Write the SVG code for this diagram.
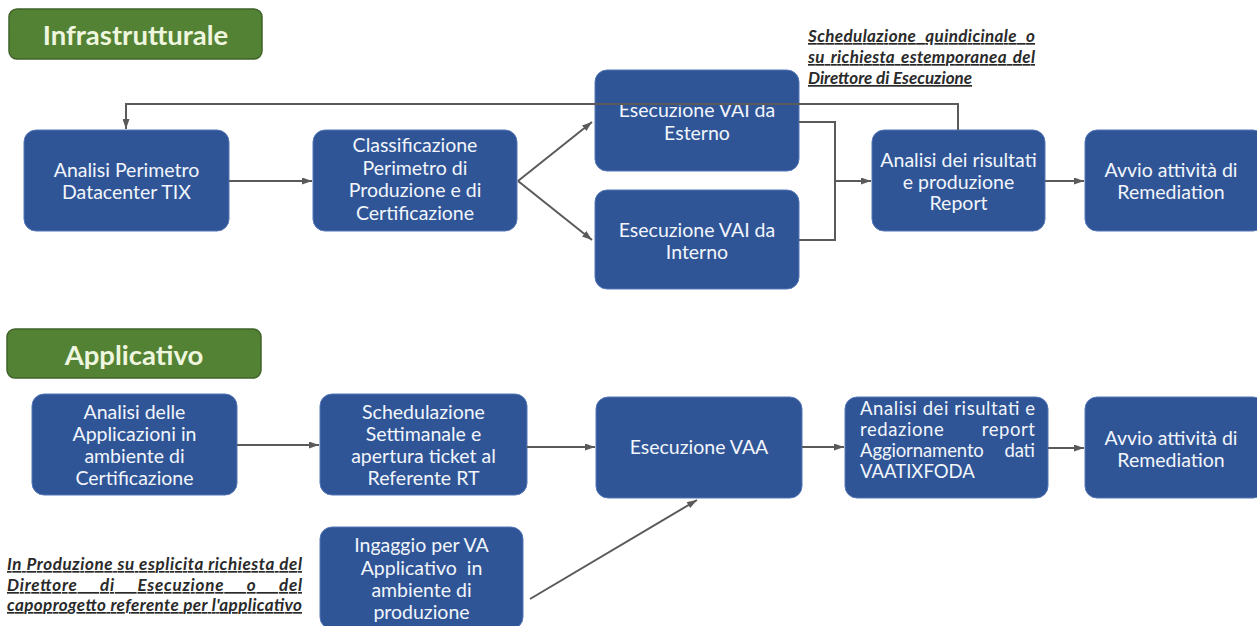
<svg xmlns="http://www.w3.org/2000/svg" width="1257" height="626" viewBox="0 0 1257 626">
<style>
.hdr rect{fill:#548235;stroke:#3f6328;stroke-width:1.5}
.hdr text{font-family:Lato,"Open Sans",sans-serif;font-weight:bold;font-size:27.5px;fill:#eef6df;text-anchor:middle}
.nd rect{fill:#2F5597;stroke:#5577b8;stroke-width:1}
.nd text{font-family:Lato,"Open Sans",sans-serif;font-size:19.5px;fill:#f2f5fb;text-anchor:middle}
.nd text.l{text-anchor:start;font-size:18.5px}
.cn{fill:none;stroke:#5a5a5a;stroke-width:2}
.note{font-family:Lato,"Open Sans",sans-serif;font-size:17px;font-style:italic;font-weight:bold;fill:#2a2a2a;text-decoration:underline}
</style>
<defs>
<marker id="ah" viewBox="0 0 10 7" refX="10" refY="3.5" markerWidth="5" markerHeight="3.5" orient="auto" markerUnits="strokeWidth">
<path d="M0,0 L10,3.5 L0,7 z" fill="#5a5a5a"/>
</marker>
</defs>
<rect width="1257" height="626" fill="#ffffff"/>

<g id="hdr-infra" class="hdr">
<rect x="9" y="9" width="253" height="50" rx="8"/>
<text x="135.5" y="44.5">Infrastrutturale</text>
</g>
<g id="hdr-app" class="hdr">
<rect x="7" y="329" width="254" height="49" rx="8"/>
<text x="134" y="364.5">Applicativo</text>
</g>

<g id="n-analisi-perimetro" class="nd">
<rect x="24" y="130" width="205" height="101" rx="12"/>
<text x="126.5" y="177">Analisi Perimetro</text>
<text x="126.5" y="199">Datacenter TIX</text>
</g>
<g id="n-classificazione" class="nd">
<rect x="313" y="130" width="204" height="101" rx="12"/>
<text x="415" y="152">Classificazione</text>
<text x="415" y="175">Perimetro di</text>
<text x="415" y="197">Produzione e di</text>
<text x="415" y="220">Certificazione</text>
</g>
<g id="n-esterno" class="nd">
<rect x="595" y="70" width="204" height="101" rx="12"/>
<text x="697" y="117">Esecuzione VAI da</text>
<text x="697" y="140">Esterno</text>
</g>
<g id="n-interno" class="nd">
<rect x="595" y="190" width="204" height="99" rx="12"/>
<text x="697" y="237">Esecuzione VAI da</text>
<text x="697" y="259">Interno</text>
</g>
<g id="n-analisi-report" class="nd">
<rect x="872" y="130" width="173" height="101" rx="12"/>
<text x="958.5" y="167">Analisi dei risultati</text>
<text x="958.5" y="189">e produzione</text>
<text x="958.5" y="210">Report</text>
</g>
<g id="n-avvio-1" class="nd">
<rect x="1085" y="130" width="180" height="101" rx="12"/>
<text x="1171" y="177">Avvio attività di</text>
<text x="1171" y="199">Remediation</text>
</g>

<g id="n-analisi-app" class="nd">
<rect x="32" y="394" width="205" height="101" rx="12"/>
<text x="134.5" y="419">Analisi delle</text>
<text x="134.5" y="441">Applicazioni in</text>
<text x="134.5" y="463">ambiente di</text>
<text x="134.5" y="485">Certificazione</text>
</g>
<g id="n-schedulazione" class="nd">
<rect x="320" y="394" width="207" height="101" rx="12"/>
<text x="423.5" y="419">Schedulazione</text>
<text x="423.5" y="441">Settimanale e</text>
<text x="423.5" y="463">apertura ticket al</text>
<text x="423.5" y="485">Referente RT</text>
</g>
<g id="n-ingaggio" class="nd">
<rect x="320" y="527" width="203" height="102" rx="12"/>
<text x="421.5" y="552">Ingaggio per VA</text>
<text x="421.5" y="575" xml:space="preserve">Applicativo  in</text>
<text x="421.5" y="597">ambiente di</text>
<text x="421.5" y="619">produzione</text>
</g>
<g id="n-vaa" class="nd">
<rect x="596" y="397" width="206" height="101" rx="12"/>
<text x="699" y="454">Esecuzione VAA</text>
</g>
<g id="n-analisi-vaatix" class="nd">
<rect x="845" y="397" width="203" height="101" rx="12"/>
<text class="l" x="860" y="415" textLength="175" lengthAdjust="spacing">Analisi dei risultati e</text>
<text class="l" x="860" y="436" word-spacing="32" textLength="175" lengthAdjust="spacing">redazione report</text>
<text class="l" x="860" y="457" word-spacing="16" textLength="175" lengthAdjust="spacing">Aggiornamento dati</text>
<text class="l" x="860" y="478">VAATIXFODA</text>
</g>
<g id="n-avvio-2" class="nd">
<rect x="1085" y="397" width="180" height="101" rx="12"/>
<text x="1171" y="445">Avvio attività di</text>
<text x="1171" y="467">Remediation</text>
</g>

<g id="connectors">
<line class="cn" x1="229" y1="181" x2="312" y2="181" marker-end="url(#ah)"/>
<line class="cn" x1="518" y1="181" x2="592" y2="122" marker-end="url(#ah)"/>
<line class="cn" x1="518" y1="181" x2="592" y2="240" marker-end="url(#ah)"/>
<path class="cn" d="M799,122 H835 V240 H799"/>
<line class="cn" x1="835" y1="181" x2="871" y2="181" marker-end="url(#ah)"/>
<line class="cn" x1="1045" y1="181" x2="1084" y2="181" marker-end="url(#ah)"/>
<path class="cn" d="M958,130 V104 H126 V129" marker-end="url(#ah)"/>
<line class="cn" x1="237" y1="445" x2="319" y2="445" marker-end="url(#ah)"/>
<line class="cn" x1="527" y1="447" x2="595" y2="447" marker-end="url(#ah)"/>
<line class="cn" x1="802" y1="447" x2="844" y2="447" marker-end="url(#ah)"/>
<line class="cn" x1="1048" y1="448" x2="1084" y2="448" marker-end="url(#ah)"/>
<line class="cn" x1="530" y1="599" x2="697" y2="500" marker-end="url(#ah)"/>
</g>

<g id="note-infra">
<text class="note" x="808" y="42" word-spacing="5" textLength="227" lengthAdjust="spacing">Schedulazione quindicinale o</text>
<text class="note" x="808" y="63" word-spacing="2" textLength="227" lengthAdjust="spacing">su richiesta estemporanea del</text>
<text class="note" x="808" y="84">Direttore di Esecuzione</text>
</g>
<g id="note-app">
<text class="note" x="7" y="570" textLength="295" lengthAdjust="spacing">In Produzione su esplicita richiesta del</text>
<text class="note" x="7" y="591" word-spacing="18" textLength="295" lengthAdjust="spacing">Direttore di Esecuzione o del</text>
<text class="note" x="7" y="611" textLength="295" lengthAdjust="spacing">capoprogetto referente per l'applicativo</text>
</g>
</svg>
